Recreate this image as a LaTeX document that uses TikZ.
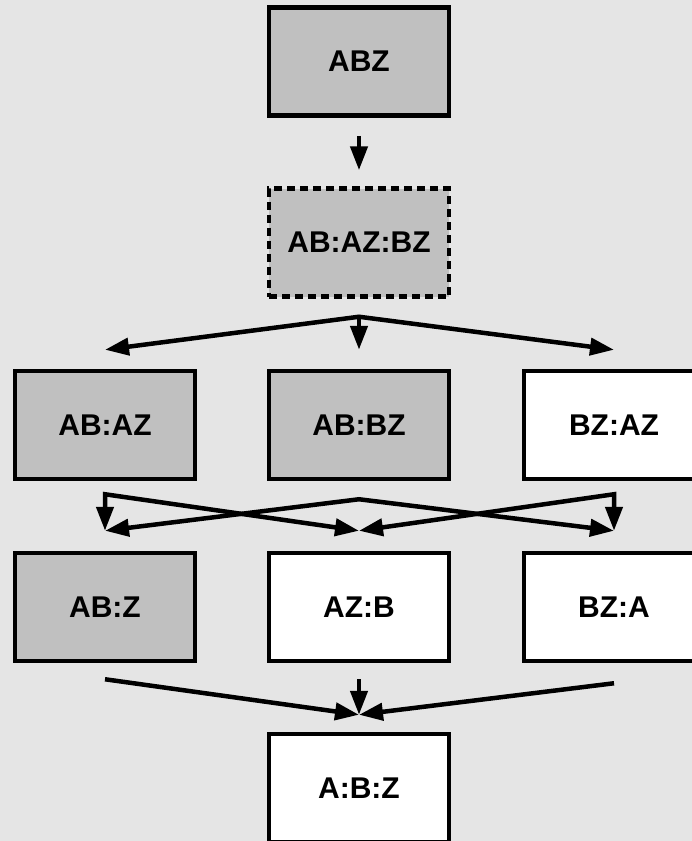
\documentclass[tikz,border=0pt]{standalone}
\usepackage{fontspec}
\setmainfont{Liberation Sans}
\usetikzlibrary{arrows.meta,positioning}
\definecolor{bggray}{RGB}{229,229,229}
\definecolor{boxgray}{RGB}{192,192,192}

\begin{document}
\begin{tikzpicture}[x=1pt,y=-1pt,>={Triangle[length=24pt,width=17pt]},
    box/.style={draw,line width=4.5pt,minimum width=180pt,minimum height=108pt,
      font=\fontsize{30}{34}\selectfont\bfseries},
    shaded/.style={box,fill=boxgray},
    plain/.style={box,fill=white},
    link/.style={line width=4.5pt}]
    \fill[bggray] (0,0) rectangle (692,841);
    \useasboundingbox (0,0) rectangle (692,841);

    \node[shaded] (abz) at (359,61.5) {ABZ};
    \node[shaded,dash pattern=on 8pt off 5pt] (abazbz) at (359,242.5) {AB:AZ:BZ};

    \node[shaded] (abaz) at (105,425) {AB:AZ};
    \node[shaded] (abbz) at (359,425) {AB:BZ};
    \node[plain] (bzaz) at (614,425) {BZ:AZ};

    \node[shaded] (ab-z) at (105,607) {AB:Z};
    \node[plain] (az-b) at (359,607) {AZ:B};
    \node[plain] (bz-a) at (614,607) {BZ:A};

    \node[plain] (a-b-z) at (359,788) {A:B:Z};

    % split
    \draw[link,->,shorten <=18pt,shorten >=16pt] (abz) -- (abazbz);
    \coordinate (fork) at ([yshift=-18pt]abazbz.south);
    \foreach \n in {abaz,abbz,bzaz}
      \coordinate (in-\n) at ([yshift=19pt]\n.north);
    \draw[link,<->] (in-abaz) -- (fork) -- (in-bzaz);
    \draw[link,->] (fork) -- (in-abbz);

    % cross
    \coordinate (c-left) at ([yshift=-13pt]abaz.south);
    \coordinate (c-mid) at ([yshift=-18pt]abbz.south);
    \coordinate (c-right) at ([yshift=-13pt]bzaz.south);
    \foreach \n in {ab-z,az-b,bz-a}
      \coordinate (in-\n) at ([yshift=20pt]\n.north);
    \draw[link,<->] (in-ab-z) -- (c-left) -- (in-az-b);
    \draw[link,<->] (in-ab-z) -- (c-mid) -- (in-bz-a);
    \draw[link,<->] (in-az-b) -- (c-right) -- (in-bz-a);

    % merge
    \coordinate (join) at ([yshift=17pt]a-b-z.north);
    \draw[link,->] ([yshift=-16pt]ab-z.south) coordinate (o-ab-z) -- (join);
    \draw[link,->] ([yshift=-16pt]az-b.south) coordinate (o-az-b) -- (join);
    \draw[link,->] ([yshift=-20pt]bz-a.south) coordinate (o-bz-a) -- (join);
\end{tikzpicture}
\end{document}
